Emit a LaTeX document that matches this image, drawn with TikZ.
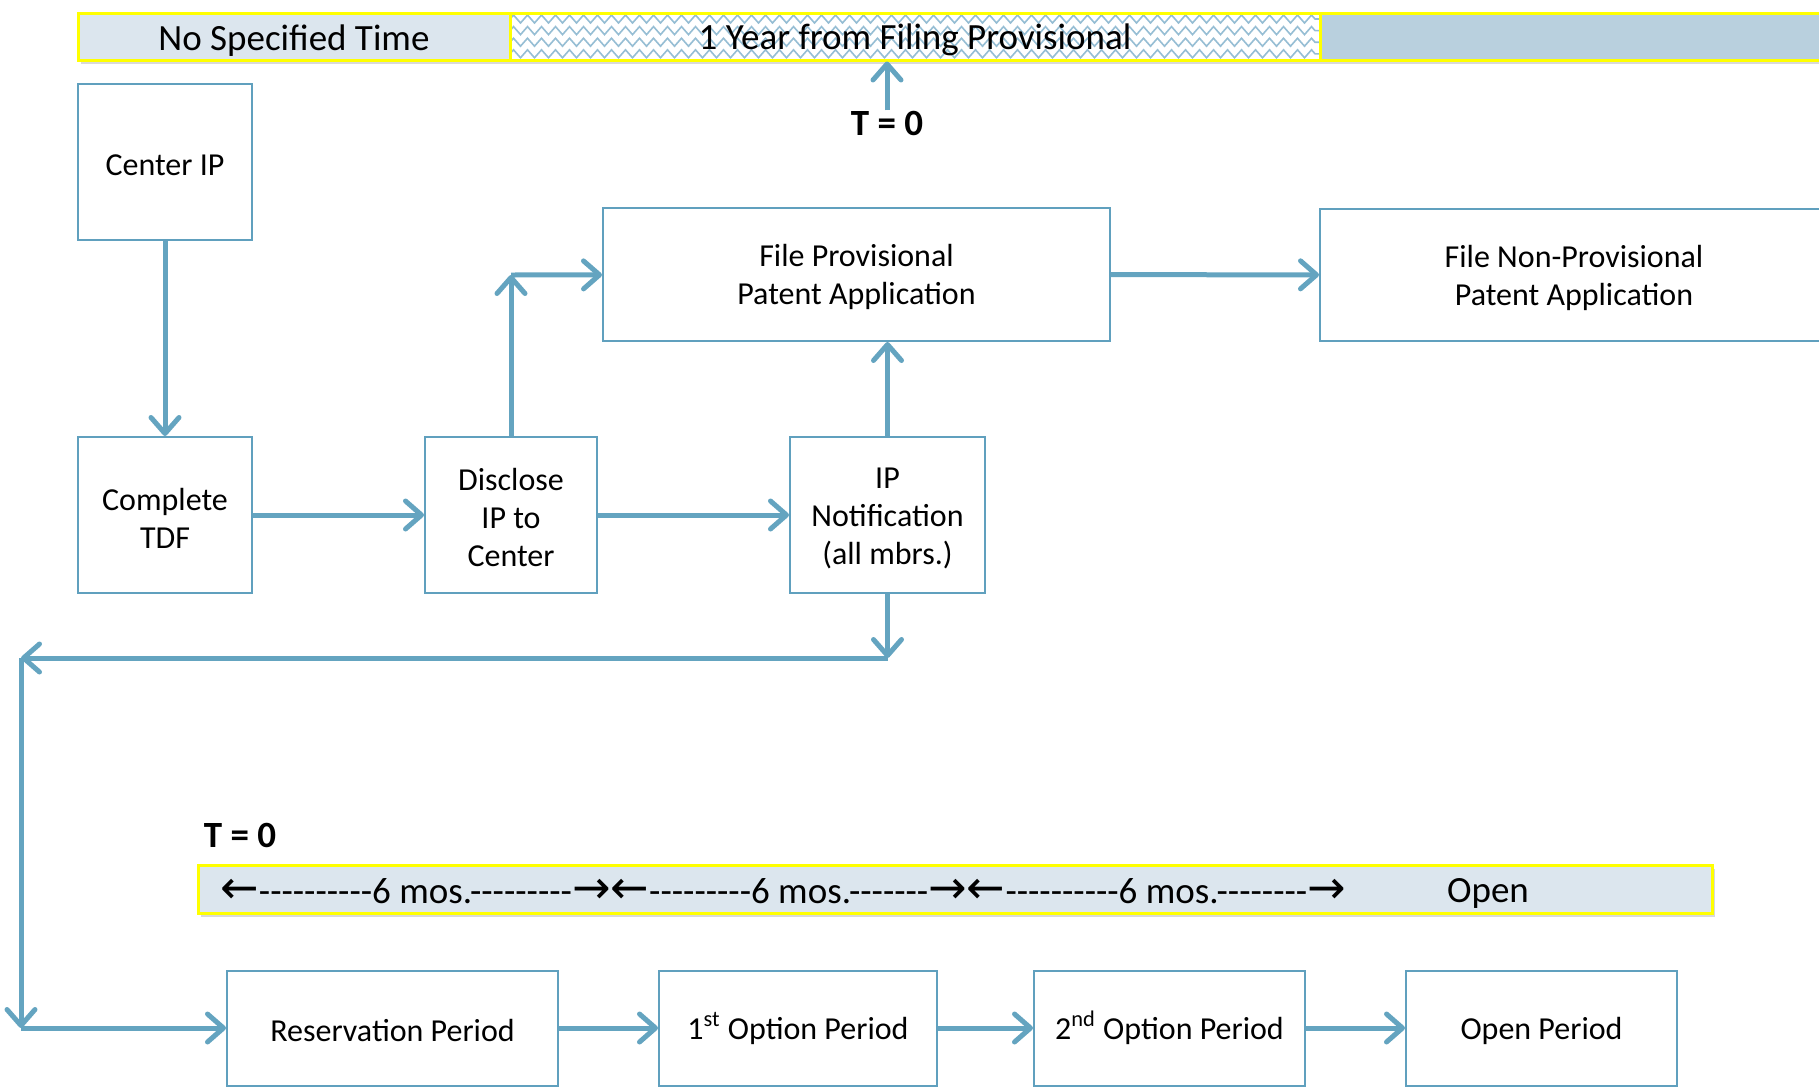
\documentclass[tikz,border=0pt]{standalone}
\usepackage{fontspec}
\setmainfont{Carlito}[Ligatures=TeXOff]
\newfontfamily\arrowfont{DejaVu Sans}
\newcommand\backarr{{\arrowfont\fontsize{23}{22}\selectfont ←}}
\newcommand\fwdarr{{\arrowfont\fontsize{23}{22}\selectfont →}}
\newcommand\lift{\rule{0pt}{14pt}}
\usetikzlibrary{arrows.meta,shadows,decorations.pathmorphing}
\definecolor{linkblue}{RGB}{100,164,192}
\definecolor{boxblue}{RGB}{96,160,190}
\definecolor{barpale}{RGB}{220,230,238}
\definecolor{bardark}{RGB}{185,208,222}
\definecolor{zigblue}{RGB}{150,190,212}
\definecolor{baryellow}{RGB}{255,255,0}
\tikzstyle{stage}=[draw=boxblue,line width=1pt,rectangle,align=center,inner sep=0pt,font=\fontsize{16}{19}\selectfont]
\tikzstyle{bar}=[draw=baryellow,line width=1.5pt,rectangle,inner sep=0pt,font=\fontsize{18.5}{22}\selectfont,execute at begin node={\rule{0pt}{16.5pt}},drop shadow={opacity=0.3,shadow xshift=1.5pt,shadow yshift=-2pt}]
\tikzstyle{link}=[draw=linkblue,line width=2.5pt,-{Straight Barb[length=8pt,width=14pt,round]}]
\tikzstyle{tzero}=[inner sep=0pt,font=\bfseries\fontsize{18.5}{22}\selectfont]
\tikzstyle{zigzags}=[path picture={
  \foreach \r in {0,...,3}
    \draw[zigblue,line width=0.8pt,decorate,decoration={zigzag,segment length=7pt,amplitude=2pt}]
      ([yshift=-3pt-5.8*\r pt]path picture bounding box.north west) -- ([yshift=-3pt-5.8*\r pt]path picture bounding box.north east);
}]

\begin{document}
\begin{tikzpicture}[x=0.5pt,y=-0.5pt]
\useasboundingbox (0,0) rectangle (1819,1087);

\node[bar,fill=barpale,minimum width=216pt,minimum height=23.5pt] (nospec) at (294,36.5) {No Specified Time};
\node[bar,fill=white,zigzags,minimum width=405pt,minimum height=23.5pt] (oneyear) at (915,36.5) {1 Year from Filing Provisional};
\node[bar,fill=bardark,minimum width=255pt,minimum height=23.5pt] (later) at (1575,36.5) {};
\node[tzero] (ttop) at (887,123) {T = 0};

\node[stage,minimum width=87pt,minimum height=78pt] (centerip) at (165,162) {\lift Center IP};
\node[stage,minimum width=87pt,minimum height=78pt] (tdf) at (165,515) {\lift Complete\\TDF};
\node[stage,minimum width=86pt,minimum height=78pt] (disclose) at (511,515) {\lift Disclose\\IP to\\Center};
\node[stage,minimum width=97.5pt,minimum height=78pt] (notif) at (887.5,515) {\lift IP\\Notification\\(all mbrs.)};
\node[stage,minimum width=253.5pt,minimum height=66.5pt] (fileprov) at (856.5,274.5) {\lift File Provisional\\Patent Application};
\node[stage,minimum width=254pt,minimum height=66pt] (filenonprov) at (1574,275) {\lift File Non-Provisional\\Patent Application};

\node[tzero] (tbottom) at (240,835) {T = 0};
\node[bar,fill=barpale,minimum width=757pt,minimum height=24pt] (periods) at (955,889) {};
\node[anchor=west,inner sep=0pt,font=\fontsize{18.5}{22}\selectfont] (sixmos) at (220,891) {\backarr----------6 mos.---------\fwdarr\backarr---------6 mos.-------\fwdarr\backarr----------6 mos.--------\fwdarr};
\node[inner sep=0pt,font=\fontsize{18.5}{22}\selectfont] (opentext) at (1488,893.5) {Open};

\node[stage,minimum width=165.5pt,minimum height=57.5pt] (reservation) at (392.5,1028) {\lift Reservation Period};
\node[stage,minimum width=139pt,minimum height=57.5pt] (optone) at (798,1028) {\lift 1\textsuperscript{st} Option Period};
\node[stage,minimum width=135.5pt,minimum height=57.5pt] (opttwo) at (1169.5,1028) {\lift 2\textsuperscript{nd} Option Period};
\node[stage,minimum width=135.5pt,minimum height=57.5pt] (openper) at (1541.5,1028) {\lift Open Period};

\coordinate (elbow) at (511,275);
\coordinate (drop) at (887.5,658);
\coordinate (bend) at (21,658);
\coordinate (foot) at (21,1028);

\draw[link] (ttop.north) -- (ttop.north |- oneyear.south);
\draw[link] (centerip) -- (tdf);
\draw[link] (tdf) -- (disclose);
\draw[link] (disclose) -- (notif);
\draw[link] (disclose) -- (elbow);
\draw[link] (elbow) -- (fileprov);
\draw[link] (notif.north) -- (notif.north |- fileprov.south);
\draw[link] (fileprov) -- (filenonprov);
\draw[link] (notif.south) -- (drop);
\draw[link] (drop) -- (bend);
\draw[link] (bend) -- (foot);
\draw[link] (foot) -- (reservation);
\draw[link] (reservation) -- (optone);
\draw[link] (optone) -- (opttwo);
\draw[link] (opttwo) -- (openper);
\end{tikzpicture}
\end{document}
